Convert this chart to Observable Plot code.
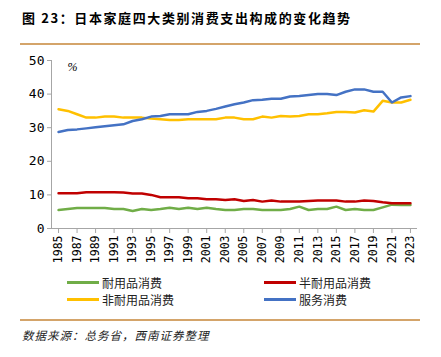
<!DOCTYPE html>
<html><head><meta charset="utf-8">
<script src="https://cdn.jsdelivr.net/npm/d3@7"></script>
<script src="https://cdn.jsdelivr.net/npm/@observablehq/plot@0.6"></script>
<style>
body{margin:0;background:#fff;width:441px;height:357px;position:relative;overflow:hidden;font-family:"Noto Sans CJK SC",sans-serif;}
#title{position:absolute;left:22px;top:8px;font-size:13px;font-weight:bold;letter-spacing:1.6px;color:#000;white-space:nowrap;}
.rule{position:absolute;left:20px;width:400px;height:1.5px;background:#d4a46a;}
#chart{position:absolute;left:0;top:46px;}
#legend{position:absolute;left:0;top:274px;width:441px;font-size:12px;color:#222;}
.li{position:absolute;display:flex;align-items:center;white-space:nowrap;}
.sw{width:32px;height:2.5px;margin-right:3px;}
#source{position:absolute;left:22px;top:327px;font-size:11.5px;font-style:italic;color:#222;letter-spacing:1px;white-space:nowrap;}
</style></head><body>
<div id="title">图 23：日本家庭四大类别消费支出构成的变化趋势</div>
<div class="rule" style="top:43px"></div>
<div id="chart"></div>
<div id="legend"></div>
<div class="rule" style="top:319px"></div>
<div id="source">数据来源：总务省，西南证券整理</div>
<script>
const years = d3.range(1985, 2024);
const seriesNames = ["耐用品消费", "半耐用品消费", "非耐用品消费", "服务消费"];
const seriesColors = ["#70ad47", "#c00000", "#ffc000", "#4472c4"];
const durable = [5.5,5.8,6.1,6.1,6.1,6.1,5.8,5.8,5.2,5.8,5.5,5.8,6.2,5.8,6.2,5.8,6.2,5.8,5.5,5.5,5.8,5.8,5.5,5.5,5.5,5.8,6.5,5.5,5.8,5.8,6.5,5.5,5.8,5.5,5.5,6.3,7.1,7.0,7.0];
const semiDurable = [10.5,10.5,10.5,10.8,10.8,10.8,10.8,10.7,10.4,10.4,10.0,9.3,9.3,9.3,9.0,9.0,8.7,8.7,8.5,8.7,8.2,8.5,8.0,8.3,8.0,8.0,8.0,8.2,8.3,8.3,8.3,8.0,8.0,8.3,8.2,7.8,7.5,7.5,7.5];
const nonDurable = [35.5,35.0,34.0,33.0,33.0,33.3,33.3,33.0,33.0,33.0,32.7,32.5,32.3,32.3,32.5,32.5,32.5,32.5,33.0,33.0,32.5,32.5,33.3,33.0,33.5,33.3,33.5,34.0,34.0,34.3,34.7,34.7,34.5,35.2,34.8,38.0,37.5,37.5,38.3];
const services = [28.7,29.3,29.5,29.8,30.1,30.4,30.7,31.0,32.0,32.5,33.3,33.5,34.0,34.0,34.0,34.7,35.0,35.6,36.3,37.0,37.5,38.2,38.3,38.6,38.6,39.3,39.4,39.7,40.0,40.0,39.7,40.7,41.4,41.4,40.7,40.7,37.5,39.0,39.4];
const yTicks = [0,10,20,30,40,50];
const xTicks = d3.range(1985, 2024, 2);

const seriesValues = [durable, semiDurable, nonDurable, services];
const data = seriesNames.flatMap((name, i) => years.map((year, j) => ({series: name, year, value: seriesValues[i][j]})));

const chart = Plot.plot({
  width: 441,
  height: 224,
  marginTop: 14,
  marginBottom: 42,
  marginLeft: 51,
  marginRight: 24,
  style: {fontFamily: "'DejaVu Sans Mono', monospace", fontSize: "12px", color: "#000"},
  x: {domain: [1984.24, 2023.76]},
  y: {domain: [0, 50]},
  color: {domain: seriesNames, range: seriesColors},
  marks: [
    Plot.ruleY([0], {stroke: "#a6a6a6", strokeWidth: 1}),
    Plot.ruleX([1984.24], {stroke: "#a6a6a6", strokeWidth: 1}),
    Plot.axisY({ticks: yTicks, tickSize: 4, tickPadding: 3, stroke: "#a6a6a6", label: null, fontSize: 13}),
    Plot.axisX({ticks: xTicks, tickFormat: d => String(d), tickRotate: -90, tickSize: 5, tickPadding: 2, stroke: "#a6a6a6", label: null, fontSize: 11.5}),
    Plot.lineY(data, {x: "year", y: "value", z: "series", stroke: "series", strokeWidth: 2.5}),
    Plot.text(["%"], {x: 1986.5, y: 48, text: d => d, fontFamily: "serif", fontStyle: "italic", fontSize: 12})
  ]
});
document.getElementById("chart").appendChild(chart);

const legend = document.getElementById("legend");
const pos = [[67,0],[264,0],[67,17],[264,17]];
const order = [0,1,2,3];
order.forEach((i, k) => {
  const d = document.createElement("div");
  d.className = "li";
  d.style.left = pos[k][0] + "px";
  d.style.top = pos[k][1] + "px";
  d.innerHTML = `<span class="sw" style="background:${seriesColors[i]}"></span><span>${seriesNames[i]}</span>`;
  legend.appendChild(d);
});
</script>
</body></html>
